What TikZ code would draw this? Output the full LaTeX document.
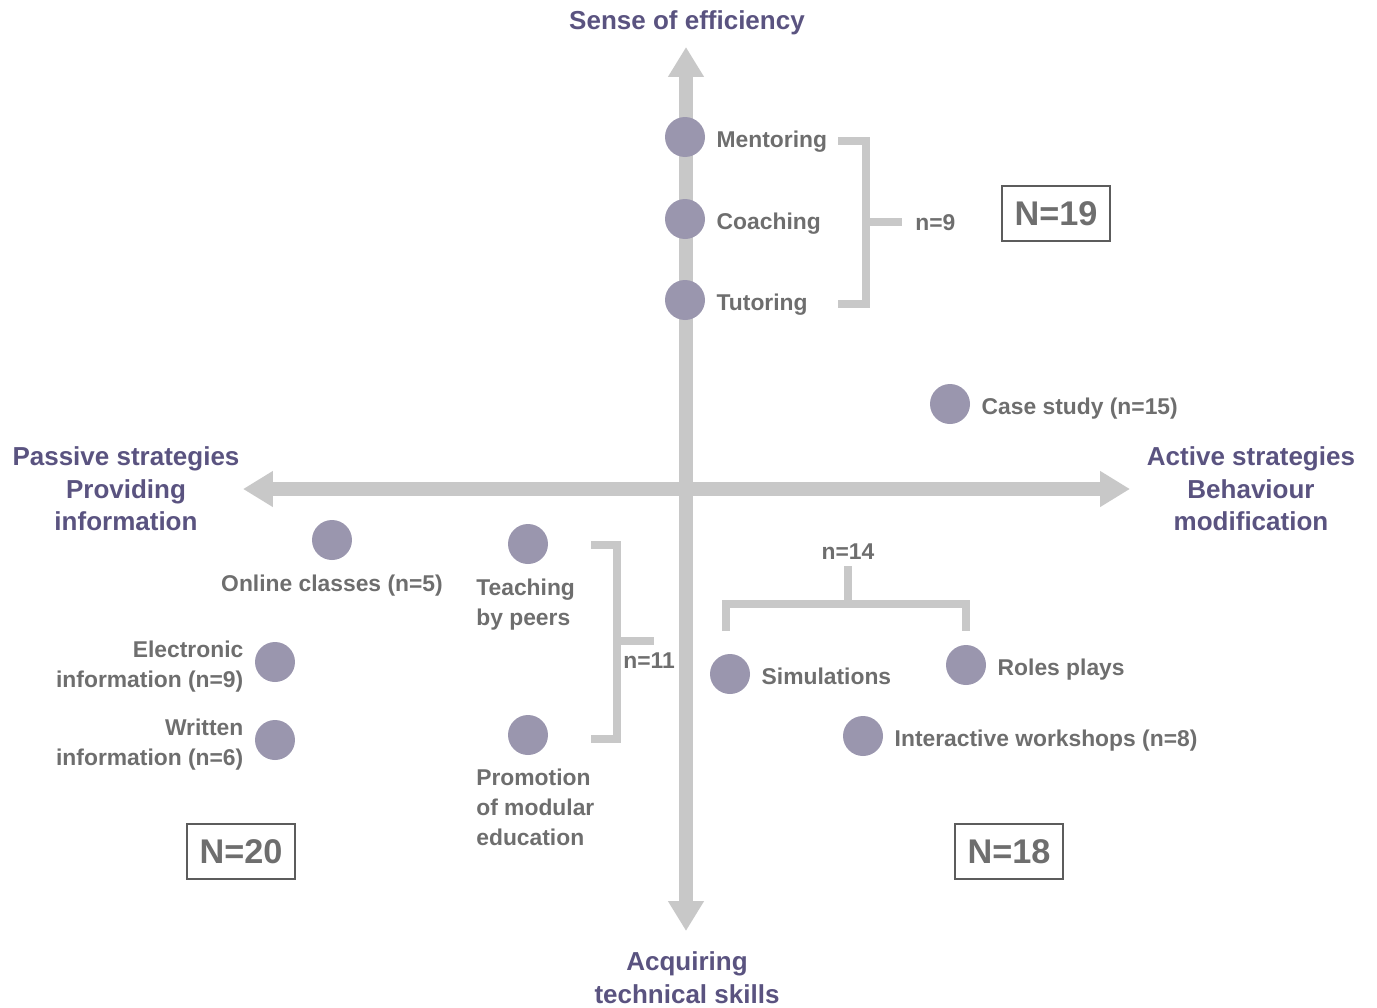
\documentclass[tikz,border=0pt]{standalone}
\usepackage{fontspec}
\setmainfont{Liberation Sans}
\usetikzlibrary{positioning, arrows.meta}
\definecolor{TitleInk}{HTML}{5A5380}
\definecolor{LabelInk}{HTML}{6E6E6E}
\definecolor{DotFill}{HTML}{9A96AE}
\definecolor{AxisGray}{HTML}{C8C8C8}
\definecolor{BoxInk}{HTML}{5C5C5C}

\begin{document}
\begin{tikzpicture}[x=0.02cm, y=-0.02cm,
					DotNode/.style={circle, fill=DotFill, minimum size=0.8cm, inner sep=0},
					ItemLabel/.style={text=LabelInk, font=\bfseries\fontsize{13}{17}\selectfont, inner sep=0},
					LineLabel/.style={ItemLabel, text height=11.6pt, text depth=0pt},
					AxisTitle/.style={text=TitleInk, font=\bfseries\fontsize{14.8}{18.6}\selectfont, align=center, inner sep=0},
					CountBox/.style={draw=BoxInk, line width=0.8pt, text=LabelInk, font=\bfseries\fontsize{19.5}{22}\selectfont, minimum width=2.16cm, minimum height=1.1cm, inner sep=0},
					BraceLine/.style={draw=AxisGray, line width=4.5pt},
					AxisLine/.style={draw=AxisGray, line width=7.9pt, {Triangle[width=19.3pt, length=17pt]}-{Triangle[width=19.3pt, length=17pt]}},
					node distance=0.22cm]

				\useasboundingbox (0,0) rectangle (1377,1008);

				% axes
				\coordinate (WestTip) at (243,489);
				\coordinate (EastTip) at (1130,489);
				\coordinate (NorthTip) at (686,47);
				\coordinate (SouthTip) at (686,931);
				\draw[AxisLine] (WestTip) -- (EastTip);
				\draw[AxisLine] (NorthTip) -- (SouthTip);

				\node[AxisTitle] (Efficiency) at (687,23) {Sense of efficiency};
				\node[AxisTitle] (Skills) at (687,978) {Acquiring\\technical skills};
				\node[AxisTitle] (Passive) at (126,489) {Passive strategies\\Providing\\information};
				\node[AxisTitle] (Active) at (1251,489) {Active strategies\\Behaviour\\modification};

				% upper quadrant
				\node[DotNode] (Mentor) at (685,137) {};
				\node[DotNode] (Coach) at (685,219) {};
				\node[DotNode] (Tutor) at (685,300) {};
				\node[LineLabel, right=of Mentor] (MentorText) {Mentoring};
				\node[LineLabel, right=of Coach] (CoachText) {Coaching};
				\node[LineLabel, right=of Tutor] (TutorText) {Tutoring};
				\draw[BraceLine] (838,141) -| (866,304) -- (838,304);
				\draw[BraceLine] (866,222) -- (902,222);
				\node[LineLabel, anchor=west] (NineCount) at (915,220) {n=9};
				\node[CountBox] (BoxNineteen) at (1056,213.5) {N=19};

				\node[DotNode] (Case) at (950,404) {};
				\node[LineLabel, right=of Case] (CaseText) {Case study (n=15)};

				% lower left quadrant
				\node[DotNode] (Online) at (332,540) {};
				\node[LineLabel, below=0.2cm of Online] (OnlineText) {Online classes (n=5)};
				\node[DotNode] (Electronic) at (275,662) {};
				\node[ItemLabel, align=right, left=of Electronic, yshift=-2.5pt] (ElectronicText) {Electronic\\information (n=9)};
				\node[DotNode] (Written) at (275,740) {};
				\node[ItemLabel, align=right, left=of Written, yshift=-2.8pt] (WrittenText) {Written\\information (n=6)};
				\node[CountBox] (BoxTwenty) at (241,851.5) {N=20};

				\node[DotNode] (Peers) at (528,544) {};
				\node[ItemLabel, align=left, anchor=north west] (PeersText) at (476,579) {Teaching\\by peers};
				\node[DotNode] (Modular) at (528,735) {};
				\node[ItemLabel, align=left, anchor=north west] (ModularText) at (476,769) {Promotion\\of modular\\education};
				\draw[BraceLine] (591,545) -| (617,739) -- (591,739);
				\draw[BraceLine] (617,641) -- (654,641);
				\node[LineLabel, anchor=west] (ElevenCount) at (623,658) {n=11};

				% lower right quadrant
				\node[LineLabel] (FourteenCount) at (848,549) {n=14};
				\draw[BraceLine] (848,566) -- (848,604);
				\draw[BraceLine] (726,631) -- (726,604) -- (966,604) -- (966,631);
				\node[DotNode] (Simul) at (730,674) {};
				\node[LineLabel, right=of Simul] (SimulText) {Simulations};
				\node[DotNode] (Roles) at (966,665) {};
				\node[LineLabel, right=of Roles] (RolesText) {Roles plays};
				\node[DotNode] (Workshop) at (863,736) {};
				\node[LineLabel, right=of Workshop] (WorkshopText) {Interactive workshops (n=8)};
				\node[CountBox] (BoxEighteen) at (1009,851.5) {N=18};
			\end{tikzpicture}
\end{document}
